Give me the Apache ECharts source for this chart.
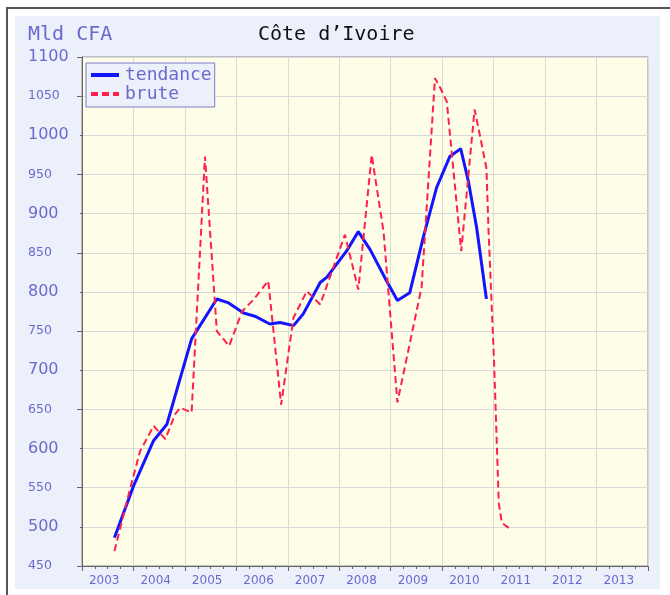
<!DOCTYPE html>
<html>
<head>
<meta charset="utf-8">
<script src="https://cdn.jsdelivr.net/npm/echarts@6/dist/echarts.min.js"></script>
<style>
  html, body { margin: 0; padding: 0; background: #ffffff; }
  #frame { position: absolute; left: 6px; top: 7px; width: 670px; height: 600px;
           border-left: 2px solid #555; border-top: 2px solid #555; }
  #panel { position: absolute; left: 15px; top: 16px; width: 645px; height: 573px; background: #ecf0fa; }
  #chart { position: absolute; left: 0; top: 0; width: 670px; height: 595px; }
</style>
</head>
<body>
<div id="frame"></div>
<div id="panel"></div>
<div id="chart"></div>
<script>
// Year labels shown under the time axis
const yearLabels = ['2003', '2004', '2005', '2006', '2007', '2008', '2009', '2010', '2011', '2012', '2013'];

// Trend series (decimal year, billions of CFA francs)
const trendTime  = [2003.63, 2004.00, 2004.39, 2004.65, 2005.13, 2005.62, 2005.85, 2006.14, 2006.36, 2006.65,
                    2006.85, 2007.11, 2007.30, 2007.63, 2007.76, 2008.14, 2008.37, 2008.60, 2008.92, 2009.13,
                    2009.37, 2009.63, 2009.89, 2010.15, 2010.36, 2010.51, 2010.67, 2010.86];
const trendValue = [486, 552, 610, 631, 740, 791, 786, 773, 769, 759,
                    761, 757, 772, 812, 819, 852, 877, 854, 814, 789,
                    799, 869, 933, 973, 983, 941, 882, 791];

// Raw series (decimal year, billions of CFA francs)
const rawTime  = [2003.63, 2003.94, 2004.13, 2004.29, 2004.39, 2004.62, 2004.81, 2004.91, 2005.13, 2005.39,
                  2005.62, 2005.86, 2006.11, 2006.33, 2006.62, 2006.87, 2007.11, 2007.37, 2007.63, 2008.11,
                  2008.37, 2008.63, 2008.86, 2009.13, 2009.60, 2009.86, 2009.96, 2010.09, 2010.37, 2010.63,
                  2010.73, 2010.86, 2010.90, 2011.01, 2011.10, 2011.16, 2011.35];
const rawValue = [469, 550, 597, 616, 629, 612, 644, 652, 646, 973,
                  750, 731, 775, 790, 814, 656, 767, 801, 784, 873,
                  803, 975, 877, 659, 806, 1073, 1061, 1043, 852, 1033,
                  1001, 958, 880, 708, 530, 505, 496];

const labelColor = '#6a6acd';
const axisColor = '#666666';
const gridColor = '#dadada';

const pairs = (xs, ys) => xs.map((x, i) => [x, ys[i]]);

const chart = echarts.init(document.getElementById('chart'), null, { renderer: 'canvas' });

chart.setOption({
  animation: false,
  backgroundColor: 'transparent',
  graphic: [
    { type: 'text', left: 28, top: 25,
      style: { text: 'Mld CFA', font: '20px "DejaVu Sans Mono"', fill: labelColor } },
    { type: 'text', left: 258, top: 25,
      style: { text: 'Côte d’Ivoire', font: '20px "DejaVu Sans Mono"', fill: '#111111' } }
  ],
  grid: {
    left: 82, top: 57, right: 22, bottom: 29,
    show: true, backgroundColor: '#fefde7', borderColor: '#8a8a8a', borderWidth: 1
  },
  legend: {
    data: ['tendance', 'brute'],
    orient: 'vertical',
    left: 86, top: 63,
    padding: [3, 3, 4, 3],
    itemWidth: 28, itemHeight: 12, itemGap: 1,
    backgroundColor: '#ecf0fa',
    borderColor: '#7b7bd0', borderWidth: 1,
    itemStyle: { opacity: 0 },
    lineStyle: { width: 4 },
    textStyle: { fontFamily: 'DejaVu Sans Mono', fontSize: 18, color: labelColor, lineHeight: 17,
                 padding: [0, 0, 0, 1] }
  },
  xAxis: [
    {
      type: 'value', min: 2003, max: 2014, interval: 1, position: 'bottom',
      axisLine: { show: true, lineStyle: { color: axisColor } },
      axisTick: { show: true, length: 5, lineStyle: { color: axisColor } },
      minorTick: { show: true, splitNumber: 4, length: 3, lineStyle: { color: axisColor } },
      axisLabel: { show: false },
      splitLine: { show: true, lineStyle: { color: gridColor, width: 1 } }
    },
    {
      type: 'category', data: yearLabels, position: 'bottom', boundaryGap: true,
      axisLine: { show: false }, axisTick: { show: false }, splitLine: { show: false },
      axisLabel: { color: labelColor, fontFamily: 'DejaVu Sans', fontSize: 12, margin: 9,
                   padding: [0, 7, 0, 0] }
    }
  ],
  yAxis: [
    {
      type: 'value', min: 450, max: 1100, interval: 50, position: 'left',
      axisLine: { show: true, lineStyle: { color: axisColor } },
      axisTick: { show: true, length: 2, lineStyle: { color: axisColor } },
      splitLine: { show: true, lineStyle: { color: gridColor, width: 1 } },
      axisLabel: {
        align: 'left', margin: 54,
        formatter: v => (v % 100 === 0 ? '{big|' + v + '}' : '{small|' + v + '}'),
        rich: {
          big: { fontFamily: 'DejaVu Sans', fontSize: 16, color: labelColor },
          small: { fontFamily: 'DejaVu Sans', fontSize: 12.5, color: labelColor }
        }
      }
    },
    {
      // longer ticks on the hundreds
      type: 'value', min: 450, max: 1100, interval: 100, position: 'left',
      axisLine: { show: false },
      axisTick: { show: true, length: 5, lineStyle: { color: axisColor } },
      axisLabel: { show: false },
      splitLine: { show: false }
    }
  ],
  series: [
    {
      name: 'tendance', type: 'line', xAxisIndex: 0, yAxisIndex: 0,
      data: pairs(trendTime, trendValue),
      symbol: 'none',
      lineStyle: { color: '#1414ff', width: 3 },
      itemStyle: { color: '#1414ff' }
    },
    {
      name: 'brute', type: 'line', xAxisIndex: 0, yAxisIndex: 0,
      data: pairs(rawTime, rawValue),
      symbol: 'none',
      lineStyle: { color: '#ff1f4b', width: 2, type: [7, 4] },
      itemStyle: { color: '#ff1f4b' }
    }
  ]
});
</script>
</body>
</html>
